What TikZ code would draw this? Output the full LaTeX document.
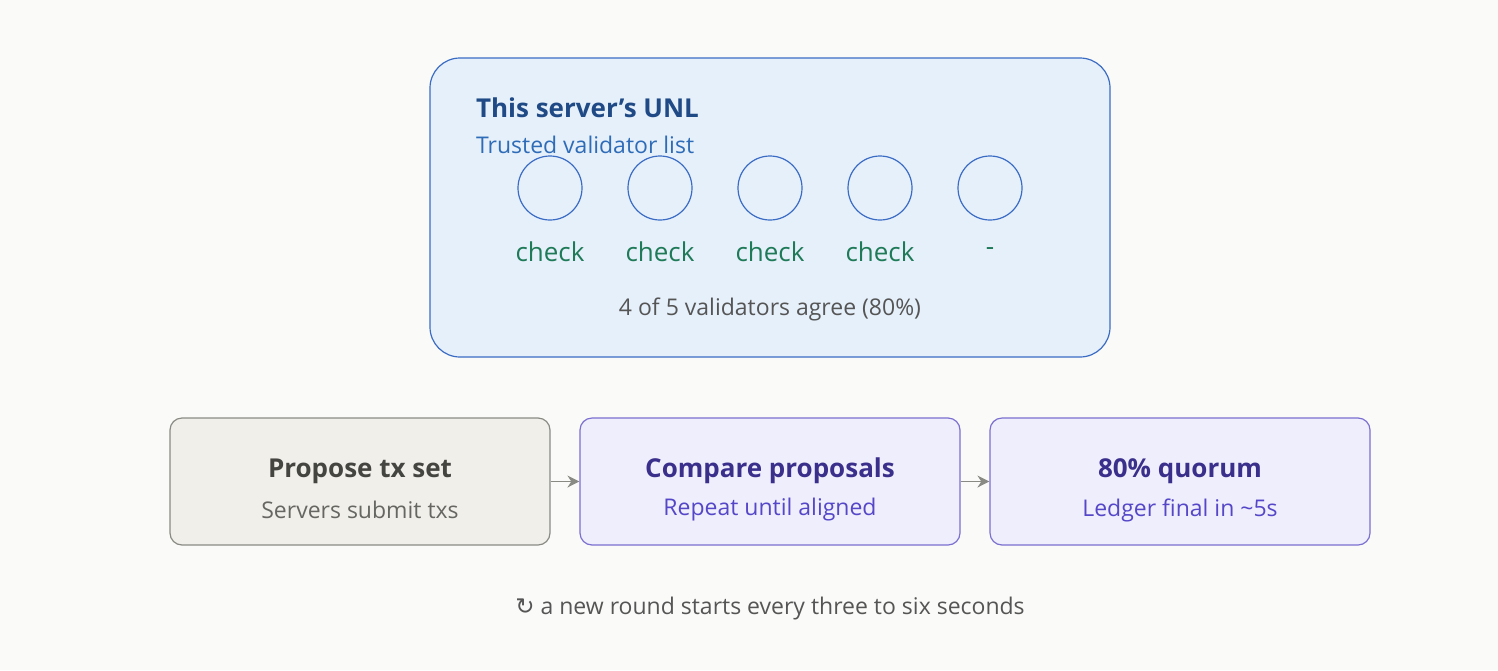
\documentclass[tikz,border=0pt]{standalone}
\usepackage{fontspec}
\setmainfont{Open Sans}
\newfontfamily\symfont{DejaVu Sans}
\usetikzlibrary{arrows.meta}
\definecolor{bg}{HTML}{FAFAF8}
\definecolor{unlfill}{HTML}{E6F0FB}
\definecolor{unldraw}{HTML}{3B6CC4}
\definecolor{unltitle}{HTML}{1F4A85}
\definecolor{unlsub}{HTML}{2F6CB8}
\definecolor{chk}{HTML}{1E7A57}
\definecolor{graytext}{HTML}{555555}
\definecolor{pfill}{HTML}{F1EFEA}
\definecolor{pdraw}{HTML}{8A8A85}
\definecolor{ptitle}{HTML}{444440}
\definecolor{psub}{HTML}{666662}
\definecolor{vfill}{HTML}{EEEEFC}
\definecolor{vdraw}{HTML}{7B6FD0}
\definecolor{vtitle}{HTML}{3B2F8C}
\definecolor{vsub}{HTML}{5547C8}
\tikzset{
  px/.style={x=0.5pt,y=-0.5pt},
  circ/.style={circle,draw=unldraw,line width=0.6pt,minimum size=32pt,inner sep=0pt},
  chktxt/.style={text=chk,font=\fontsize{13}{15}\selectfont},
  stepbox/.style={rounded corners=6pt,line width=0.6pt,minimum width=190pt,minimum height=63.5pt},
  ttl/.style={font=\fontsize{13}{15}\selectfont\bfseries},
  sub/.style={font=\fontsize{11.5}{14}\selectfont},
  arr/.style={-{Stealth[length=6pt,width=6pt]},draw=pdraw,line width=0.8pt}
}
\begin{document}
\begin{tikzpicture}[px]
\fill[bg] (0,0) rectangle (1498,670);
\useasboundingbox (0,0) rectangle (1498,670);
\draw[fill=unlfill,draw=unldraw,line width=0.6pt,rounded corners=15pt] (430,58) rectangle (1110,357);
\node[anchor=west,text=unltitle,font=\fontsize{13}{15}\selectfont\bfseries] (t) at (469,108) {This server's UNL};
\node[anchor=west,text=unlsub,font=\fontsize{11.5}{14}\selectfont] (ts) at (469,145) {Trusted validator list};
\foreach \i/\x/\l in {1/550/check,2/660/check,3/770/check,4/880/check,5/990/-}{
  \node[circ] (c\i) at (\x,188) {};
  \node[chktxt] (k\i) at (\x,252) {\l};
}
\node[text=graytext,font=\fontsize{11.5}{14}\selectfont] (agree) at (770,309) {4 of 5 validators agree (80\%)};
\node[stepbox,draw=pdraw,fill=pfill] (b1) at (360,481.5) {};
\node[stepbox,draw=vdraw,fill=vfill] (b2) at (770,481.5) {};
\node[stepbox,draw=vdraw,fill=vfill] (b3) at (1180,481.5) {};
\node[ttl,text=ptitle] (b1t) at (360,471) {Propose tx set};
\node[sub,text=psub] (b1s) at (360,510) {Servers submit txs};
\node[ttl,text=vtitle] (b2t) at (770,471) {Compare proposals};
\node[sub,text=vsub] (b2s) at (770,510) {Repeat until aligned};
\node[ttl,text=vtitle] (b3t) at (1180,471) {80\% quorum};
\node[sub,text=vsub] (b3s) at (1180,510) {Ledger final in \textasciitilde5s};
\draw[arr] (b1.east) -- (b2.west);
\draw[arr] (b2.east) -- (b3.west);
\node[text=graytext,font=\fontsize{11.5}{14}\selectfont] (foot) at (770,609) {{\symfont ↻} a new round starts every three to six seconds};
\end{tikzpicture}
\end{document}
